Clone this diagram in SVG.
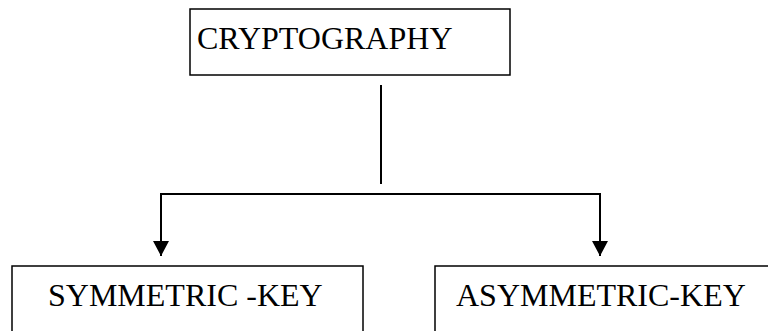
<svg xmlns="http://www.w3.org/2000/svg" width="768" height="331" viewBox="0 0 768 331">
<style>
.box{fill:#fff;stroke:#000;stroke-width:1.5}
.lbl{font-family:"Liberation Serif","Times New Roman",serif;font-size:32px;fill:#000}
.conn{fill:none;stroke:#000;stroke-width:2}
</style>
<defs>
<marker id="ah" markerUnits="userSpaceOnUse" markerWidth="16" markerHeight="16" refX="15" refY="8" orient="auto" viewBox="0 0 16 16">
<path d="M0,0 L15,8 L0,16 Z" fill="#000"/>
</marker>
</defs>
<rect width="768" height="331" fill="#fff"/>
<g id="node-cryptography">
<rect class="box" x="190" y="9" width="320" height="66"/>
<text class="lbl" x="197" y="49">CRYPTOGRAPHY</text>
</g>
<g id="node-symmetric">
<rect class="box" x="12" y="266" width="351" height="80"/>
<text class="lbl" x="48" y="306">SYMMETRIC -KEY</text>
</g>
<g id="node-asymmetric">
<rect class="box" x="435" y="266" width="350" height="80"/>
<text class="lbl" x="456" y="306">ASYMMETRIC-KEY</text>
</g>
<g id="connectors">
<line class="conn" x1="381" y1="85" x2="381" y2="184"/>
<polyline class="conn" points="381,194 161,194 161,256" marker-end="url(#ah)"/>
<polyline class="conn" points="381,194 600,194 600,256" marker-end="url(#ah)"/>
</g>
</svg>
